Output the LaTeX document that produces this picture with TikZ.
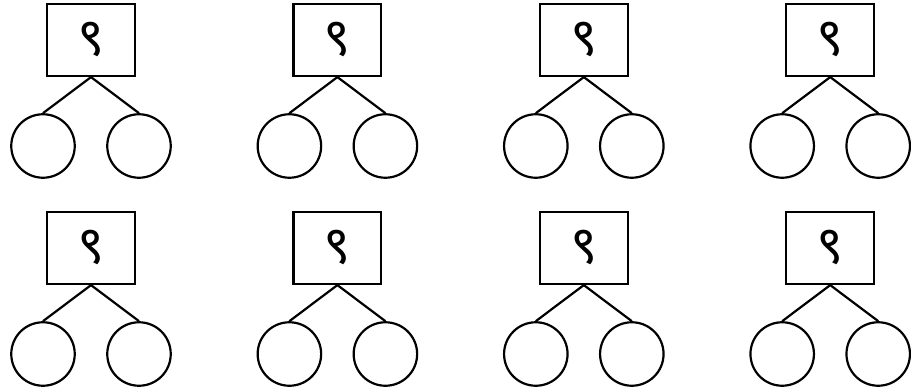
\documentclass[tikz,border=0pt]{standalone}
\usepackage{fontspec}
\usetikzlibrary{calc}
\newfontfamily\devafont[Script=Devanagari]{Noto Sans}
\begin{document}
\begin{tikzpicture}[x=0.02cm, y=-0.02cm, line width=1.25pt,
    qbox/.style={draw, minimum width=1.76cm, minimum height=1.44cm, inner sep=0pt, font=\devafont\fontsize{30}{30}\selectfont},
    leaf/.style={draw, circle, minimum size=1.27cm, inner sep=0pt}]
        \useasboundingbox (0,0) rectangle (911,391);
        \foreach \c in {0,...,3} {
          \foreach \r in {0,1} {
            \node[qbox] (q\c\r) at ({91+246.4*\c},{40+208*\r}) {९\hspace{4pt}};
            \node[leaf] (l\c\r) at ($(q\c\r)+(-48,106)$) {};
            \node[leaf] (r\c\r) at ($(q\c\r)+(48,106)$) {};
            \draw (q\c\r.south)--(l\c\r.north);
            \draw (q\c\r.south)--(r\c\r.north);
          }
        }
      \end{tikzpicture}
\end{document}
